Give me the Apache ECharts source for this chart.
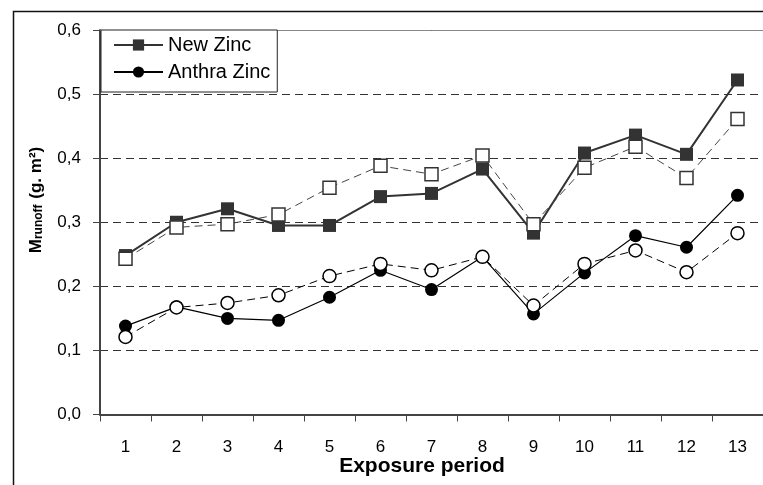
<!DOCTYPE html>
<html>
<head>
<meta charset="utf-8">
<script src="https://cdn.jsdelivr.net/npm/echarts@6/dist/echarts.min.js"></script>
<style>
html,body{margin:0;padding:0;background:#fff;}
#chart{width:763px;height:485px;}
</style>
</head>
<body>
<div id="chart"></div>
<script>
var categories = ['1','2','3','4','5','6','7','8','9','10','11','12','13'];
var newZinc = [0.248,0.300,0.321,0.295,0.295,0.340,0.345,0.383,0.283,0.408,0.436,0.406,0.522];
var newZincOpen = [0.243,0.292,0.297,0.312,0.354,0.388,0.375,0.404,0.297,0.385,0.418,0.369,0.461];
var anthraZinc = [0.138,0.168,0.150,0.147,0.183,0.225,0.195,0.246,0.157,0.221,0.279,0.261,0.342];
var anthraZincOpen = [0.121,0.167,0.174,0.186,0.216,0.235,0.225,0.246,0.170,0.235,0.256,0.222,0.283];
var yMin = 0, yMax = 0.6, yStep = 0.1;
var xTitle = 'Exposure period';
var legendNames = ['New Zinc', 'Anthra Zinc'];

var FONT = '"Liberation Sans", Arial, sans-serif';
var chart = echarts.init(document.getElementById('chart'), null, {renderer: 'canvas'});

var option = {
  animation: false,
  backgroundColor: '#fff',
  textStyle: {fontFamily: FONT},
  grid: {left: 100, top: 30, width: 667, height: 384.5, containLabel: false},
  legend: {
    data: legendNames,
    orient: 'vertical',
    left: 101, top: 30,
    itemWidth: 49, itemHeight: 14, itemGap: 7,
    padding: [5, 7, 10, 12],
    borderColor: '#222', borderWidth: 1,
    backgroundColor: '#fff',
    textStyle: {fontFamily: FONT, fontSize: 20, lineHeight: 20, color: '#000'},
    z: 10
  },
  xAxis: {
    type: 'category',
    data: categories,
    boundaryGap: true,
    axisLine: {lineStyle: {color: '#444', width: 2}},
    axisTick: {show: true, alignWithLabel: false, length: 7, lineStyle: {color: '#444', width: 1}},
    axisLabel: {fontFamily: FONT, fontSize: 17, color: '#000', margin: 24},
    splitLine: {show: false}
  },
  yAxis: {
    type: 'value',
    min: yMin, max: yMax, interval: yStep,
    axisLine: {show: true, lineStyle: {color: '#444', width: 2}},
    axisTick: {show: true, length: 7, lineStyle: {color: '#444', width: 1}},
    axisLabel: {fontFamily: FONT, fontSize: 17, color: '#000', margin: 19,
      formatter: function (v) { return v.toFixed(1).replace('.', ','); }},
    splitLine: {show: true, lineStyle: {color: '#333', width: 1, type: [8, 5]}}
  },
  graphic: [
    {type: 'rect', left: 11, top: 9, z: -10, silent: true,
      shape: {x: 0, y: 0, width: 800, height: 520},
      style: {fill: 'none', stroke: '#111', lineWidth: 1.5}},
    {type: 'text', x: 422, y: 466, z: 5,
      style: {text: xTitle, font: 'bold 21px ' + FONT, fill: '#000', align: 'center', verticalAlign: 'middle'}},
    {type: 'text', x: 35, y: 200, rotation: Math.PI / 2, z: 5,
      style: {
        text: '{m|M}{s|runoff}{m| (g. m²)}',
        align: 'center', verticalAlign: 'middle',
        rich: {
          m: {font: 'bold 17px ' + FONT, fill: '#000', lineHeight: 20, verticalAlign: 'bottom'},
          s: {font: 'bold 12px ' + FONT, fill: '#000', lineHeight: 14, verticalAlign: 'bottom', padding: [0, 1, 0, 0]}
        }
      }}
  ],
  series: [
    {
      name: 'New Zinc', type: 'line', data: newZinc,
      symbol: 'rect', symbolSize: 13,
      lineStyle: {color: '#333', width: 2},
      itemStyle: {color: '#333'},
      markLine: {
        silent: true, symbol: 'none', label: {show: false},
        lineStyle: {color: '#888', width: 1, type: 'solid'},
        data: [{yAxis: yMax}]
      }
    },
    {
      name: 'Anthra Zinc', type: 'line', data: anthraZinc,
      symbol: 'circle', symbolSize: 13,
      lineStyle: {color: '#000', width: 1.2},
      itemStyle: {color: '#000'}
    },
    {
      name: 'New Zinc (open)', type: 'line', data: newZincOpen,
      symbol: 'rect', symbolSize: 13,
      lineStyle: {color: '#444', width: 1, type: [8, 5]},
      itemStyle: {color: '#fff', borderColor: '#333', borderWidth: 1.5}
    },
    {
      name: 'Anthra Zinc (open)', type: 'line', data: anthraZincOpen,
      symbol: 'circle', symbolSize: 13,
      lineStyle: {color: '#000', width: 1, type: [8, 5]},
      itemStyle: {color: '#fff', borderColor: '#000', borderWidth: 1.5}
    }
  ]
};
chart.setOption(option);
</script>
</body>
</html>
